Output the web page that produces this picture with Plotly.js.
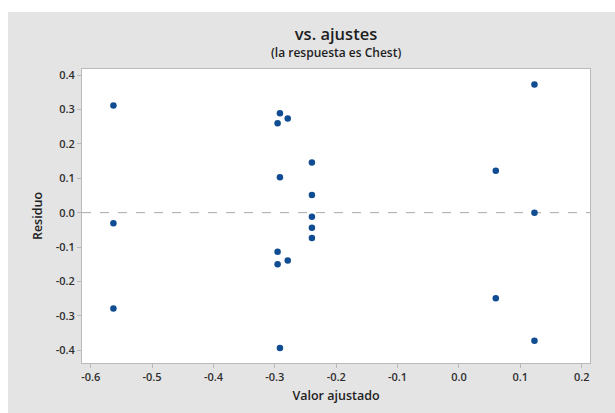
<!DOCTYPE html>
<html>
<head>
<meta charset="utf-8">
<script src="https://cdn.plot.ly/plotly-3.0.1.min.js"></script>
<style>
  html, body { margin: 0; padding: 0; background: #ffffff; }
  #chart { position: absolute; left: 8px; top: 12px; width: 607px; height: 401px; }
</style>
</head>
<body>
<div id="chart"></div>
<script>
// Fitted values (x) and residuals (y)
const fittedValues = [-0.563, -0.563, -0.563,
  -0.2917, -0.279, -0.2955, -0.2396, -0.2917, -0.2396, -0.2396, -0.2396, -0.2396,
  -0.2955, -0.279, -0.2955, -0.2917,
  0.123, 0.060, 0.123, 0.060, 0.123];
const residuals = [0.3115, -0.031, -0.2785,
  0.289, 0.2736, 0.260, 0.1454, 0.1028, 0.0513, -0.0119, -0.044, -0.074,
  -0.1138, -0.139, -0.1497, -0.3935,
  0.3726, 0.122, 0.0, -0.2487, -0.372];
const xTickVals = [-0.6, -0.5, -0.4, -0.3, -0.2, -0.1, 0.0, 0.1, 0.2];
const xTickText = ['-0.6', '-0.5', '-0.4', '-0.3', '-0.2', '-0.1', '0.0', '0.1', '0.2'];
const yTickVals = [-0.4, -0.3, -0.2, -0.1, 0.0, 0.1, 0.2, 0.3, 0.4];
const yTickText = ['-0.4', '-0.3', '-0.2', '-0.1', '0.0', '0.1', '0.2', '0.3', '0.4'];
const titleText = 'vs. ajustes';
const subtitleText = '(la respuesta es Chest)';
const xTitle = 'Valor ajustado';
const yTitle = 'Residuo';

const fontFam = '"Open Sans", "Noto Sans", sans-serif';
const axisCommon = {
  showgrid: false,
  zeroline: false,
  showline: true,
  linecolor: '#b9b9b9',
  linewidth: 1,
  mirror: true,
  ticks: 'outside',
  ticklen: 4,
  tickcolor: '#b9b9b9',
  tickfont: { family: fontFam, size: 11, color: '#2e2e2e', weight: 600 }
};

const trace = {
  type: 'scatter',
  mode: 'markers',
  x: fittedValues,
  y: residuals,
  marker: { color: '#0f4c92', size: 6.5 },
  showlegend: false,
  hoverinfo: 'x+y'
};

const layout = {
  width: 607,
  height: 401,
  paper_bgcolor: '#e4e4e4',
  plot_bgcolor: '#ffffff',
  margin: { l: 74, r: 25, t: 57, b: 50, pad: 0 },
  font: { family: fontFam, color: '#2a2a2a' },
  title: {
    text: titleText,
    font: { family: fontFam, size: 16.5, color: '#1e1e1e', weight: 600 },
    x: 0.5, xref: 'paper', xanchor: 'center',
    y: 0.945, yref: 'container', yanchor: 'middle'
  },
  xaxis: Object.assign({}, axisCommon, {
    range: [-0.6142, 0.2135],
    tickvals: xTickVals,
    ticktext: xTickText,
    title: { text: xTitle, font: { family: fontFam, size: 12.5, color: '#222222', weight: 600 }, standoff: 8 }
  }),
  yaxis: Object.assign({}, axisCommon, {
    range: [-0.437, 0.4175],
    tickvals: yTickVals,
    ticktext: yTickText,
    title: { text: yTitle, font: { family: fontFam, size: 12.5, color: '#222222', weight: 600 }, standoff: 10 }
  }),
  annotations: [{
    text: subtitleText,
    xref: 'paper', yref: 'paper',
    x: 0.5, y: 1.057,
    xanchor: 'center', yanchor: 'middle',
    showarrow: false,
    font: { family: fontFam, size: 12, color: '#1e1e1e', weight: 600 }
  }],
  shapes: [{
    type: 'line', xref: 'paper', yref: 'y',
    x0: 0, x1: 1, y0: 0, y1: 0,
    line: { color: '#a8a8a8', width: 1, dash: 'dash' },
    layer: 'below'
  }]
};

Plotly.newPlot('chart', [trace], layout, { displayModeBar: false, staticPlot: true });
</script>
</body>
</html>
